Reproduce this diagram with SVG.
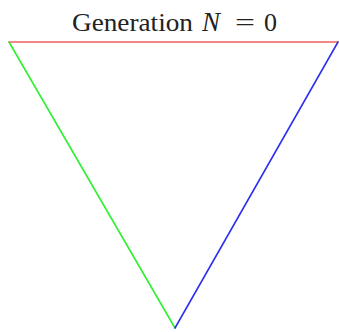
<svg xmlns="http://www.w3.org/2000/svg" width="339" height="332" viewBox="0 0 339 332">
<style>
.t{font-family:"Liberation Serif","DejaVu Serif",serif;font-size:26px;fill:#222}
.e{fill:none;stroke-width:1.6;stroke-linecap:round}
</style>
<rect width="339" height="332" fill="#fff"/>
<g id="title"><text class="t" y="31"><tspan x="72" textLength="121" lengthAdjust="spacingAndGlyphs">Generation</tspan><tspan x="202" font-style="italic" font-size="27">N</tspan><tspan x="235" textLength="20" lengthAdjust="spacingAndGlyphs">=</tspan><tspan x="264">0</tspan></text></g>
<g id="edges">
<line class="e" x1="9" y1="42" x2="338" y2="42" stroke="#f06060"/>
<line class="e" x1="9" y1="42" x2="175" y2="328" stroke="#30f030"/>
<line class="e" x1="338" y1="42" x2="175" y2="328" stroke="#3030f0"/>
</g>
</svg>
